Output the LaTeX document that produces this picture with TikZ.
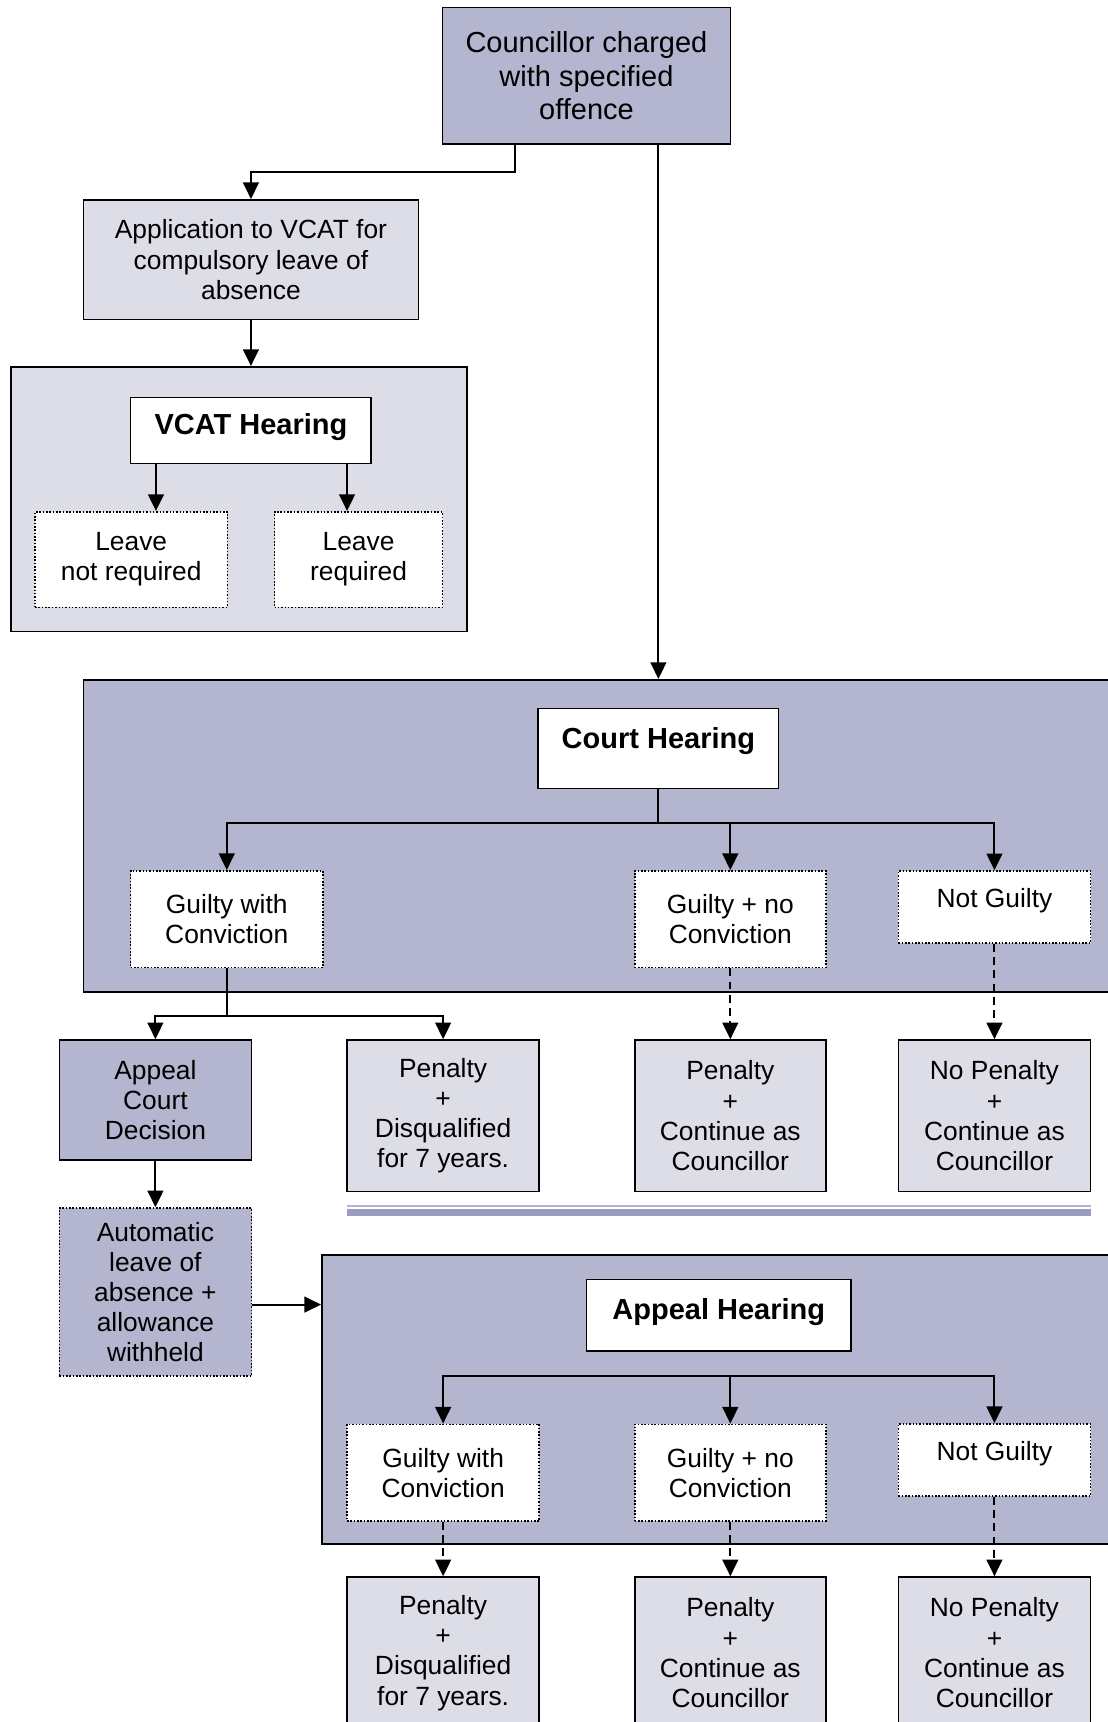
\documentclass[tikz,border=0pt]{standalone}
\usepackage{fontspec}
\setmainfont{Liberation Sans}
\usetikzlibrary{arrows.meta}
\definecolor{darkbox}{RGB}{180,181,206}
\definecolor{lightbox}{RGB}{221,221,232}
\definecolor{rulethin}{RGB}{178,178,210}
\definecolor{rulethick}{RGB}{156,156,192}

\begin{document}
\begin{tikzpicture}[x=0.02196cm,y=-0.02196cm,
    arr/.style={-{Triangle[length=9.5pt,width=9pt]},line width=1.1pt},
    link/.style={line width=1.1pt},
    dashlink/.style={dash pattern=on 4.5pt off 3pt},
    heading/.style={font=\fontsize{16.5}{19}\selectfont\bfseries},
    dark/.style={fill=darkbox},
    light/.style={fill=lightbox},
    plain/.style={fill=white},
    dotbox/.style={densely dotted}]
    \useasboundingbox (0,0) rectangle (1008,1568);
    \begin{scope}[every node/.style={draw=black,line width=0.9pt,inner sep=0pt,align=center,font=\fontsize{15}{17.2}\selectfont}]
        % containers
        \node[light,minimum width=9.113cm,minimum height=5.292cm] (vcatbox) at (217.5,454.5) {};
        \node[dark,minimum width=20.95cm,minimum height=6.237cm] (courtbox) at (553,761) {};
        \node[dark,minimum width=16.18cm,minimum height=5.775cm] (appealbox) at (661.5,1274.5) {};
        % top part
        \node[dark,minimum width=5.753cm,minimum height=2.723cm,font=\fontsize{16.5}{19}\selectfont] (charge) at (534,69) {Councillor charged\\with specified\\offence};
        \node[light,minimum width=6.698cm,minimum height=2.394cm] (app) at (228.5,236.5) {Application to VCAT for\\compulsory leave of\\absence};
        \node[plain,heading,minimum width=4.809cm,text height=20.9pt,text depth=16.5pt] (vcat) at (228.5,392) {VCAT Hearing};
        \node[plain,dotbox,minimum width=3.843cm,minimum height=1.911cm] (notreq) at (119.5,509.5) {Leave\\not required};
        \node[plain,dotbox,minimum width=3.36cm,minimum height=1.911cm] (req) at (326.5,509.5) {Leave\\required};
        % court hearing
        \node[plain,heading,minimum width=4.809cm,text height=22.7pt,text depth=22.8pt] (court) at (599.5,681.5) {Court Hearing};
        \node[plain,dotbox,minimum width=3.843cm,minimum height=1.932cm] (gwc1) at (206.5,837) {Guilty with\\Conviction};
        \node[plain,dotbox,minimum width=3.821cm,minimum height=1.932cm] (gnc1) at (665,837) {Guilty + no\\Conviction};
        \node[plain,dotbox,minimum width=3.843cm,text height=21pt,text depth=20.1pt] (ng1) at (905.5,826) {Not Guilty};
        \node[dark,minimum width=3.843cm,minimum height=2.394cm] (acd) at (141.5,1001.5) {Appeal\\Court\\Decision};
        \node[light,minimum width=3.843cm,minimum height=3.03cm] (pen1) at (403.5,1016) {Penalty\\+\\Disqualified\\for 7 years.};
        \node[light,minimum width=3.821cm,minimum height=3.03cm] (pen2) at (665,1016) {Penalty\\+\\Continue as\\Councillor};
        \node[light,minimum width=3.843cm,minimum height=3.03cm] (pen3) at (905.5,1016) {No Penalty\\+\\Continue as\\Councillor};
        \node[dark,dotbox,minimum width=3.843cm,minimum height=3.36cm] (auto) at (141.5,1176.5) {Automatic\\leave of\\absence +\\allowance\\withheld};
        % appeal hearing
        \node[plain,heading,minimum width=5.292cm,text height=22.7pt,text depth=17.8pt] (appeal) at (654.5,1197.5) {Appeal Hearing};
        \node[plain,dotbox,minimum width=3.843cm,minimum height=1.932cm] (gwc2) at (403.5,1341) {Guilty with\\Conviction};
        \node[plain,dotbox,minimum width=3.821cm,minimum height=1.932cm] (gnc2) at (665,1341) {Guilty + no\\Conviction};
        \node[plain,dotbox,minimum width=3.843cm,text height=21pt,text depth=20.1pt] (ng2) at (905.5,1329.5) {Not Guilty};
        \node[light,minimum width=3.843cm,minimum height=3.03cm] (fin1) at (403.5,1505) {Penalty\\+\\Disqualified\\for 7 years.};
        \node[light,minimum width=3.821cm,minimum height=3.03cm] (fin2) at (665,1505) {Penalty\\+\\Continue as\\Councillor};
        \node[light,minimum width=3.843cm,minimum height=3.03cm] (fin3) at (905.5,1505) {No Penalty\\+\\Continue as\\Councillor};
    \end{scope}
    \coordinate (split) at (469,157);
    \coordinate (cj) at (599.5,749);
    \coordinate (gj) at (206.5,925);
    \coordinate (aj) at (665,1253);
    % connectors
    \draw[arr] (charge.south -| split) -- (split) -| (app);
    \draw[arr] (charge.south -| court) -- (courtbox.north -| court);
    \draw[arr] (app) -- (app.south |- vcatbox.north);
    \draw[arr] (vcat.south -| 142,0) -- (notreq.north -| 142,0);
    \draw[arr] (vcat.south -| 316,0) -- (req.north -| 316,0);
    \draw[link] (court) -- (cj);
    \draw[arr] (cj) -| (gwc1);
    \draw[arr] (cj) -| (gnc1);
    \draw[arr] (cj) -| (ng1);
    \draw[link] (gwc1) -- (gj);
    \draw[arr] (gj) -| (acd);
    \draw[arr] (gj) -| (pen1);
    \draw[arr,dashlink] (gnc1) -- (pen2);
    \draw[arr,dashlink] (ng1) -- (pen3);
    \draw[arr] (acd) -- (auto);
    \draw[arr] ([yshift=-0.25cm]auto.east) -- ([yshift=-0.25cm]auto.east -| appealbox.west);
    \draw[arr] (aj) -| (gwc2);
    \draw[arr] (aj) -- (gnc2);
    \draw[arr] (aj) -| (ng2);
    \draw[arr,dashlink] (gwc2) -- (fin1);
    \draw[arr,dashlink] (gnc2) -- (fin2);
    \draw[arr,dashlink] (ng2) -- (fin3);
    % double rule
    \draw[rulethin,line width=1.3pt] (316,1098) -- (993,1098);
    \draw[rulethick,line width=3.6pt] (316,1104) -- (993,1104);
\end{tikzpicture}
\end{document}
